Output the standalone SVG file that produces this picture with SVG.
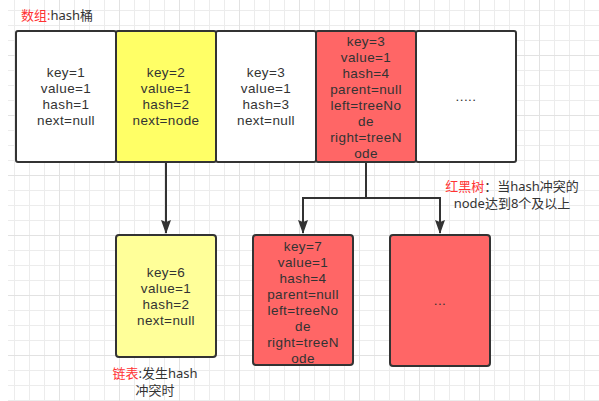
<svg xmlns="http://www.w3.org/2000/svg" width="599" height="401" viewBox="0 0 599 401">
<defs>
<pattern id="grid" x="-1" y="-5" width="60" height="60" patternUnits="userSpaceOnUse">
<path d="M0 0.5H60M0 15.5H60M0 30.5H60M0 45.5H60M0.5 0V60M15.5 0V60M30.5 0V60M45.5 0V60" fill="none" stroke="#ececec" stroke-width="1"/>
<path d="M0 0.5H60M0.5 0V60" fill="none" stroke="#e2e2e2" stroke-width="1"/>
</pattern>
<marker id="arr" markerWidth="14" markerHeight="10" refX="13" refY="5" orient="auto" markerUnits="userSpaceOnUse" viewBox="0 0 14 10">
<path d="M0 0L2 5L0 10L14 5Z" fill="#333"/>
</marker>
</defs>
<style>
.t{font-family:"Liberation Sans","Noto Sans CJK SC",sans-serif;font-size:13.5px;letter-spacing:0.4px;fill:#333;text-anchor:middle}
.cj{font-family:"Noto Sans","Noto Sans CJK SC",sans-serif;font-size:13px;fill:#333;text-anchor:middle}
.r{fill:#ff3333}
.box{stroke:#333;stroke-width:2}
.w{fill:#ffffff}
.y{fill:#ffff66}
.ly{fill:#ffff99}
.red{fill:#ff6666}
.c{fill:none;stroke:#333;stroke-width:2}
</style>
<rect width="599" height="401" fill="#fff"/>
<rect x="8" y="0" width="591" height="401" fill="url(#grid)"/>

<g id="title">
<text class="cj" x="21" y="20" style="text-anchor:start"><tspan class="r">数组:</tspan>hash桶</text>
</g>

<g id="cell1">
<rect class="box w" x="16" y="31" width="100" height="131" rx="2"/>
<text class="t" x="66" y="77"><tspan x="66">key=1</tspan><tspan x="66" dy="16">value=1</tspan><tspan x="66" dy="16">hash=1</tspan><tspan x="66" dy="16">next=null</tspan></text>
</g>
<g id="cell2">
<rect class="box y" x="116" y="31" width="100" height="131" rx="2"/>
<text class="t" x="166" y="77"><tspan x="166">key=2</tspan><tspan x="166" dy="16">value=1</tspan><tspan x="166" dy="16">hash=2</tspan><tspan x="166" dy="16">next=node</tspan></text>
</g>
<g id="cell3">
<rect class="box w" x="216" y="31" width="100" height="131" rx="2"/>
<text class="t" x="266" y="77"><tspan x="266">key=3</tspan><tspan x="266" dy="16">value=1</tspan><tspan x="266" dy="16">hash=3</tspan><tspan x="266" dy="16">next=null</tspan></text>
</g>
<g id="cell4">
<rect class="box red" x="316" y="31" width="100" height="131" rx="2"/>
<text class="t" x="366" y="46"><tspan x="366">key=3</tspan><tspan x="366" dy="16">value=1</tspan><tspan x="366" dy="16">hash=4</tspan><tspan x="366" dy="16">parent=null</tspan><tspan x="366" dy="16">left=treeNo</tspan><tspan x="366" dy="16">de</tspan><tspan x="366" dy="16">right=treeN</tspan><tspan x="366" dy="16">ode</tspan></text>
</g>
<g id="cell5">
<rect class="box w" x="416" y="31" width="100" height="131" rx="2"/>
<text class="t" x="466" y="101">.....</text>
</g>

<g id="node6">
<rect class="box ly" x="116" y="235" width="100" height="122" rx="3"/>
<text class="t" x="166" y="277"><tspan x="166">key=6</tspan><tspan x="166" dy="16">value=1</tspan><tspan x="166" dy="16">hash=2</tspan><tspan x="166" dy="16">next=null</tspan></text>
</g>
<g id="node7">
<rect class="box red" x="253" y="235" width="100" height="130" rx="3"/>
<text class="t" x="303" y="251"><tspan x="303">key=7</tspan><tspan x="303" dy="16">value=1</tspan><tspan x="303" dy="16">hash=4</tspan><tspan x="303" dy="16">parent=null</tspan><tspan x="303" dy="16">left=treeNo</tspan><tspan x="303" dy="16">de</tspan><tspan x="303" dy="16">right=treeN</tspan><tspan x="303" dy="16">ode</tspan></text>
</g>
<g id="nodeMore">
<rect class="box red" x="390" y="235" width="100" height="131" rx="3"/>
<text class="t" x="440" y="305">...</text>
</g>

<g id="label-list">
<text class="cj" x="155" y="378"><tspan x="155"><tspan class="r">链表</tspan>:发生hash</tspan><tspan x="155" dy="17">冲突时</tspan></text>
</g>
<g id="label-tree">
<text class="cj" x="512" y="191"><tspan x="512"><tspan class="r">红黑树</tspan>：当hash冲突的</tspan><tspan x="512" dy="17">node达到8个及以上</tspan></text>
</g>

<g id="connectors">
<path class="c" d="M166 162V233" marker-end="url(#arr)"/>
<path class="c" d="M366 162V198H303V233" marker-end="url(#arr)"/>
<path class="c" d="M366 198H440V233" marker-end="url(#arr)"/>
</g>
</svg>
